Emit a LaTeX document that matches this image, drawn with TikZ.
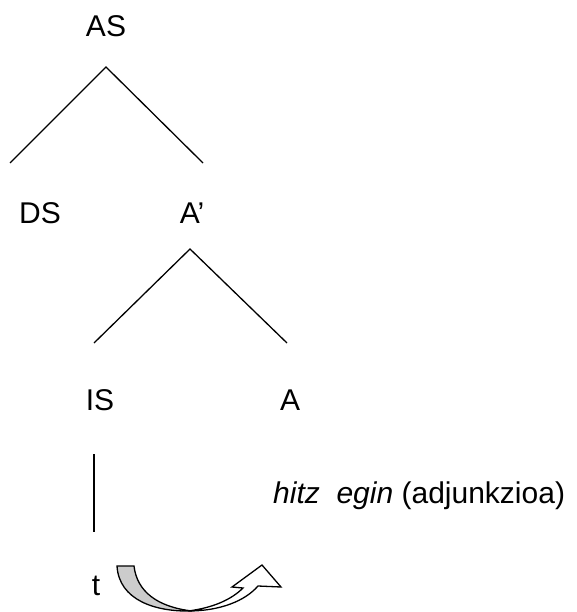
\documentclass[tikz,border=0pt]{standalone}
\usepackage{fontspec}
\setmainfont{Liberation Sans}
\usetikzlibrary{positioning}
\tikzset{
	every node/.style={
			font=\fontsize{30}{36}\selectfont,
			inner sep=0pt
		},
	branch/.style={line width=1.3pt}, % tree lines
	movearrow/.style={ % curved block arrow
			line width=1.3pt,
			line join=miter
		}
}
\definecolor{TailGray}{HTML}{CCCCCC}

\begin{document}
\begin{tikzpicture}[x=1pt, y=-1pt]
			\useasboundingbox (0,0) rectangle (576,612);
			% Nodes
			\node (as) [anchor=base] at (106,37) {AS};
			\node (ds) [anchor=base] at (40,223) {DS};
			\node (abar) [anchor=base] at (192,223) {A’};
			\node (is) [anchor=base] at (100,410) {IS};
			\node (a) [anchor=base] at (290,410) {A};
			\node (gloss) [anchor=base west] at (273,503) {\textit{hitz}\ \ \textit{egin} (adjunkzioa)};
			\node (trace) [anchor=base] at (96,595) {t};

			% Branch ends
			\coordinate (asTop) at (106,67);
			\coordinate (dsEnd) at (10,163);
			\coordinate (abarEnd) at (203,163);
			\coordinate (abarTop) at (190,249);
			\coordinate (isEnd) at (94,343);
			\coordinate (aEnd) at (287,343);
			\coordinate (isLow) at (94,454);
			\coordinate (traceUp) at (94,532);

			% Branches
			\draw[branch] (dsEnd) -- (asTop) -- (abarEnd);
			\draw[branch] (isEnd) -- (abarTop) -- (aEnd);
			\draw[branch] (isLow) -- (traceUp);

			% Movement arrow
			\draw[movearrow, fill=TailGray] (117,566) -- (134,566)
				.. controls (137,592) and (158,607) .. (192,611)
				.. controls (155,612) and (119,600) .. (117,566) -- cycle;
			\draw[movearrow, fill=white] (188,611)
				.. controls (220,611) and (245,601) .. (258,586)
				-- (281,587) -- (262,565) -- (232,587) -- (243,588)
				.. controls (231,600) and (212,608) .. (188,611) -- cycle;

		\end{tikzpicture}
\end{document}
